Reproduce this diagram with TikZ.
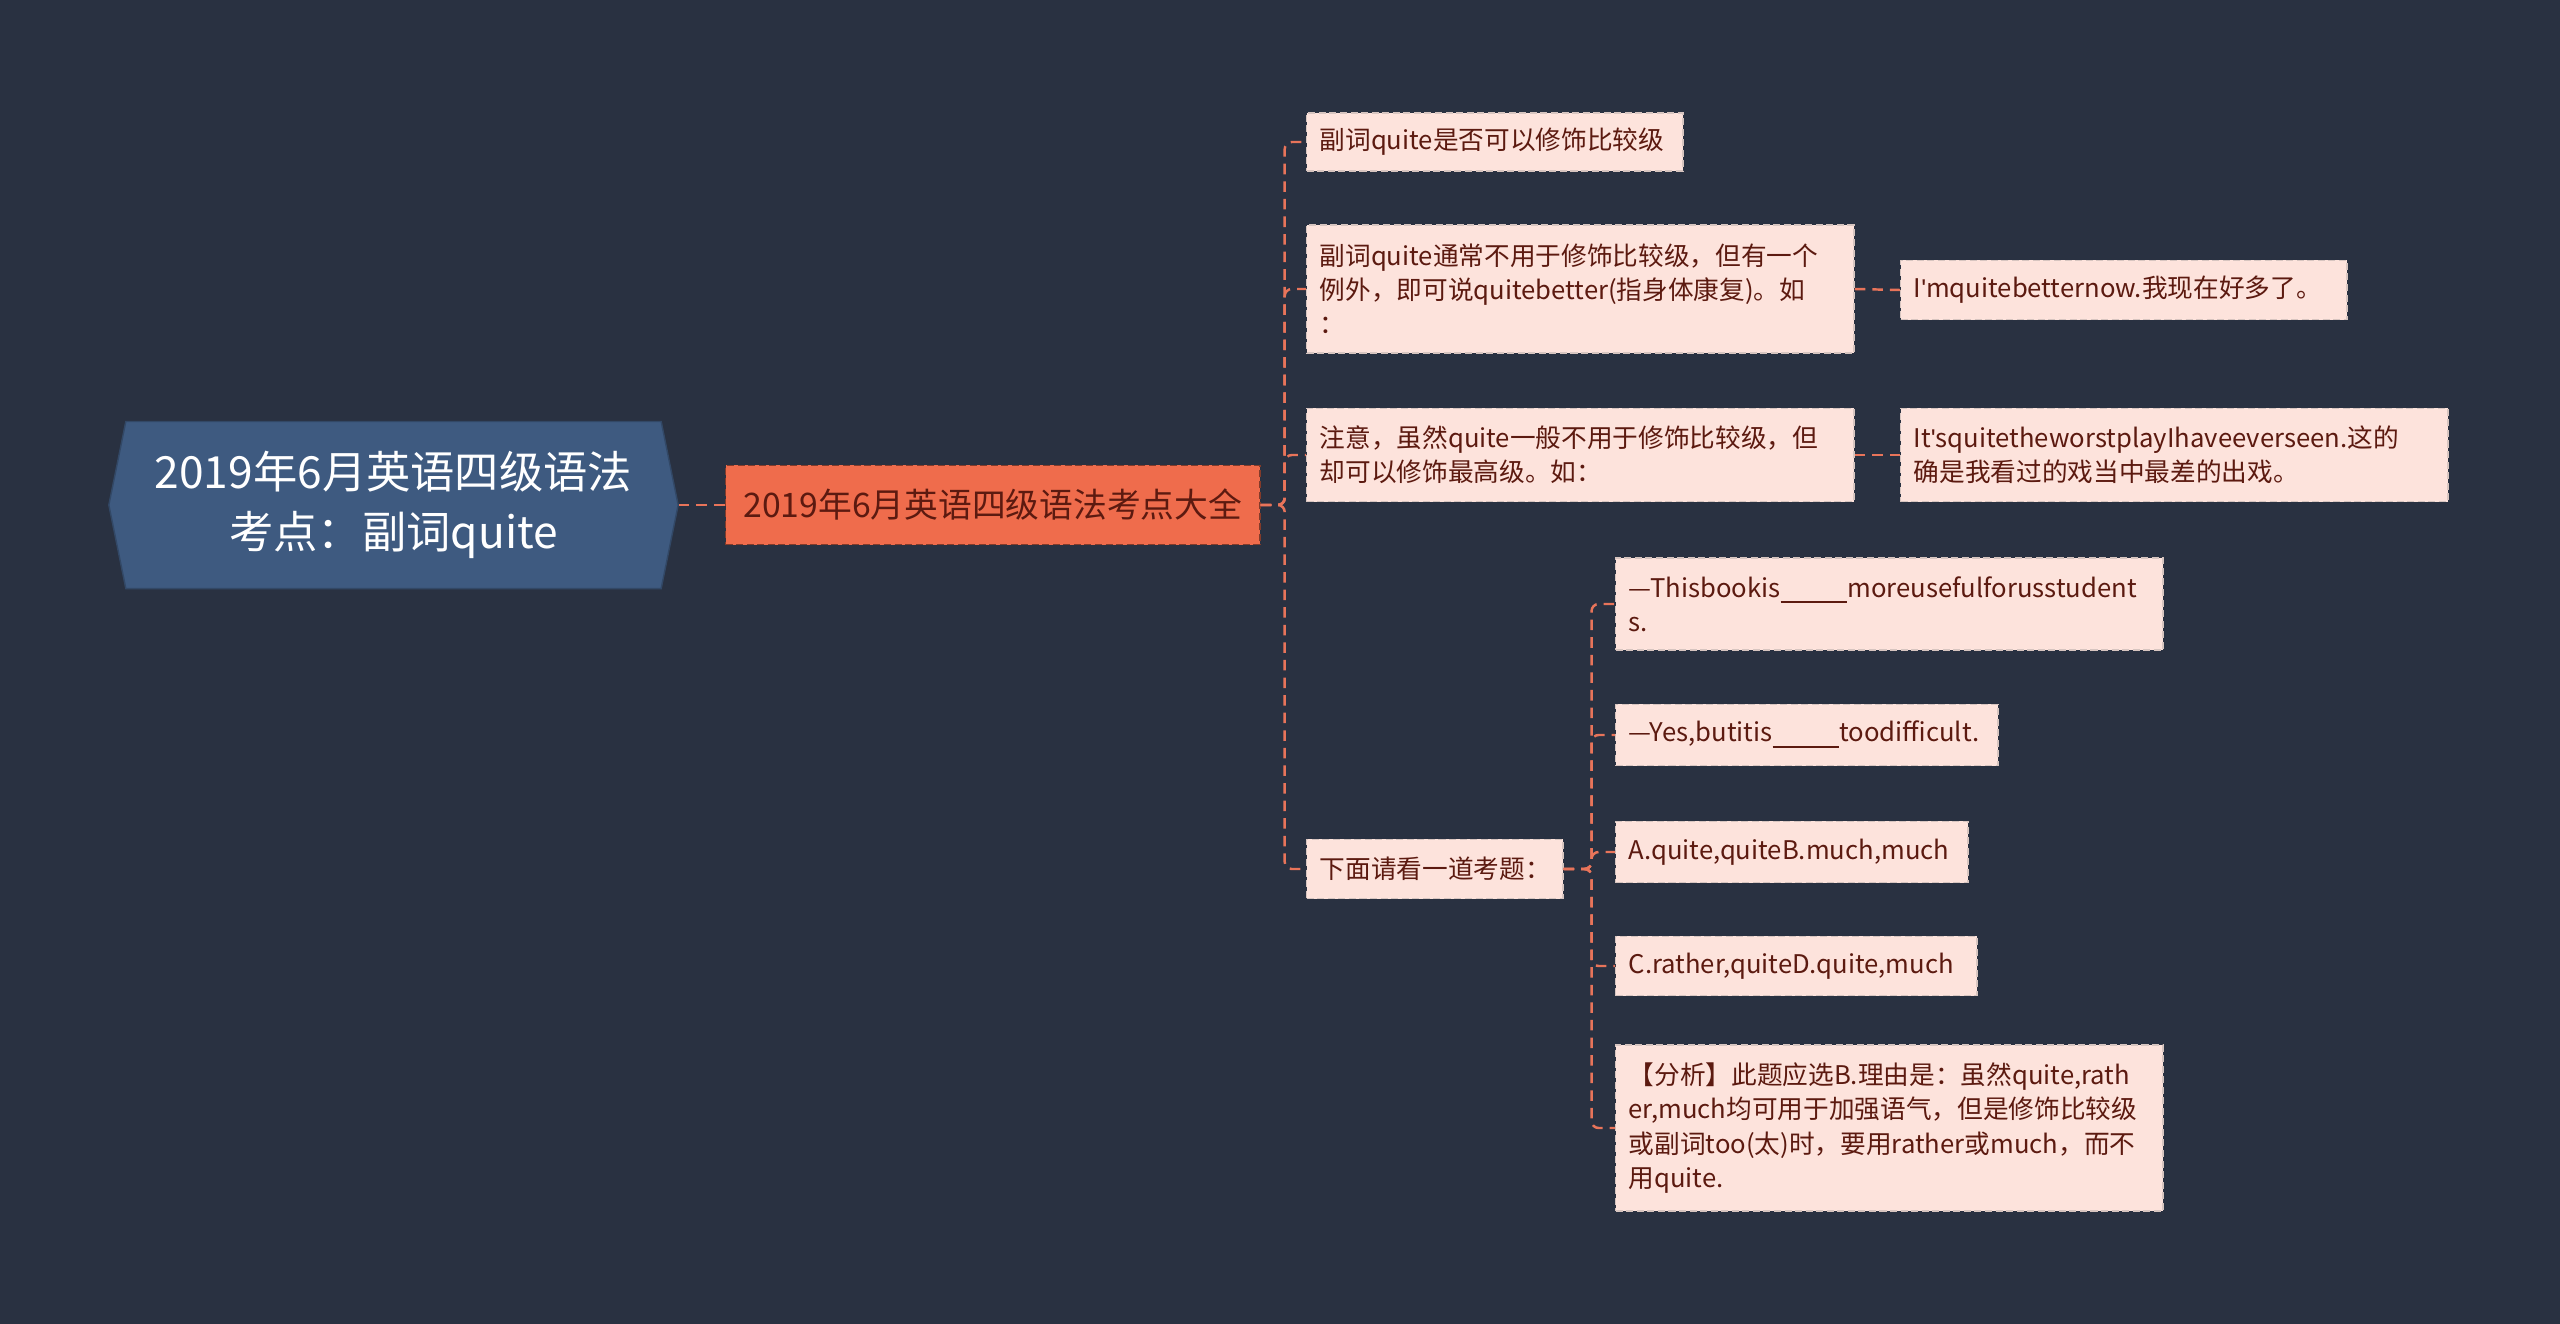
\documentclass[tikz,border=0pt]{standalone}
\usepackage{fontspec}
\setmainfont{Noto Sans CJK SC}
\newfontfamily\aposfont{Liberation Sans}[Ligatures=ResetAll]
\usetikzlibrary{shapes.symbols}

\definecolor{bgnavy}{HTML}{293141}
\definecolor{rootblue}{HTML}{3E5A80}
\definecolor{mainorange}{HTML}{EF6C4C}
\definecolor{leafpink}{HTML}{FDE3DC}
\definecolor{leaftext}{HTML}{5C1A10}
\definecolor{linesalmon}{HTML}{E8745A}

\newcommand{\apos}{{\aposfont\char"0027}}
\newcommand{\blank}{\underline{\hspace{2.6em}}}

\tikzset{
  rootbox/.style={shape=signal, signal to=west and east, signal pointer angle=157,
    fill=rootblue, draw=rootblue!80!black, text=white, inner sep=0pt,
    minimum width=5.69cm, minimum height=1.67cm, align=center,
    font=\fontsize{12.6}{17}\selectfont},
  mainbox/.style={anchor=west, fill=mainorange, draw=mainorange!55!black,
    dash pattern=on 2pt off 1pt, text=leaftext, inner sep=0pt,
    minimum width=5.34cm, minimum height=0.79cm,
    font=\fontsize{9.6}{13}\selectfont},
  leafbox/.style={anchor=west, fill=leafpink, draw=leafpink!70!gray,
    dash pattern=on 2pt off 1pt, text=leaftext, inner xsep=0.13cm, inner ysep=0pt,
    align=left, font=\fontsize{7.3}{9.7}\selectfont},
  link/.style={draw=linesalmon, line width=0.7pt, dash pattern=on 3pt off 2pt, rounded corners=2pt}
}

\begin{document}
\begin{tikzpicture}[x=0.01cm, y=-0.01cm]
  \fill[bgnavy] (0,0) rectangle (2560,1324);
  \useasboundingbox (0,0) rectangle (2560,1324);

  % root and main topic
  \node[rootbox] (root) at (393.5,505) {2019年6月英语四级语法\\考点：副词quite};
  \node[mainbox] (main) at (725,505) {2019年6月英语四级语法考点大全};

  % second level
  \node[leafbox, text width=3.50cm, minimum height=0.58cm] (n1) at (1306,142) {副词quite是否可以修饰比较级};
  \node[leafbox, text width=5.21cm, minimum height=1.28cm] (n2) at (1306,289) {副词quite通常不用于修饰比较级，但有一个\\例外，即可说quitebetter(指身体康复)。如\\：};
  \node[leafbox, text width=5.21cm, minimum height=0.93cm] (n3) at (1306,455) {注意，虽然quite一般不用于修饰比较级，但\\却可以修饰最高级。如：};
  \node[leafbox, text width=2.30cm, minimum height=0.59cm] (n4) at (1306,869) {下面请看一道考题：};

  % third level
  \node[leafbox, text width=4.20cm, minimum height=0.59cm] (n2a) at (1900,290) {I\apos mquitebetternow.我现在好多了。};
  \node[leafbox, text width=5.21cm, minimum height=0.93cm] (n3a) at (1900,455) {It\apos squitetheworstplayIhaveeverseen.这的\\确是我看过的戏当中最差的出戏。};

  % the exam question
  \node[leafbox, text width=5.21cm, minimum height=0.92cm] (qa) at (1615,604) {—Thisbookis\blank moreusefulforusstudent\\s.};
  \node[leafbox, text width=3.56cm, minimum height=0.61cm] (qb) at (1615,735) {—Yes,butitis\blank toodifficult.};
  \node[leafbox, text width=3.26cm, minimum height=0.61cm] (qc) at (1615,852) {A.quite,quiteB.much,much};
  \node[leafbox, text width=3.35cm, minimum height=0.59cm] (qd) at (1615,966) {C.rather,quiteD.quite,much};
  \node[leafbox, text width=5.21cm, minimum height=1.66cm] (qe) at (1615,1128) {【分析】此题应选B.理由是：虽然quite,rath\\er,much均可用于加强语气，但是修饰比较级\\或副词too(太)时，要用rather或much，而不\\用quite.};

  % connectors
  \draw[link] (root.east) -- (main.west);
  \foreach \n in {n1,n2,n3,n4}
    \draw[link] (main.east) -- ++(24,0) |- (\n.west);
  \draw[link] (n2.east) -- (n2a.west);
  \draw[link] (n3.east) -- (n3a.west);
  \foreach \n in {qa,qb,qc,qd,qe}
    \draw[link] (n4.east) -- ++(28,0) |- (\n.west);
\end{tikzpicture}
\end{document}
